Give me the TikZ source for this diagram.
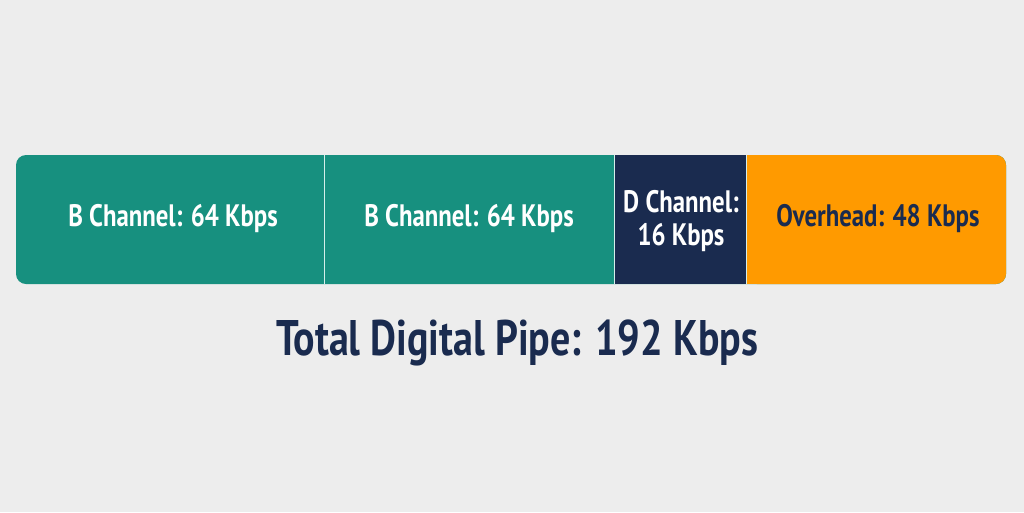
\documentclass[tikz,border=0pt]{standalone}
\usepackage{fontspec}
\setmainfont{PT Sans}[FakeStretch=0.8]
\definecolor{bg}{HTML}{EDEDED}
\definecolor{tealc}{HTML}{17907F}
\definecolor{navyc}{HTML}{1A2B4F}
\definecolor{orangec}{HTML}{FF9A00}
\definecolor{sepc}{HTML}{D5EEEA}
\tikzset{
  seglabel/.style={font=\bfseries\fontsize{31}{33}\selectfont, align=center, inner sep=0pt},
  sepline/.style={draw=sepc, line width=1.2pt}
}
\begin{document}
\begin{tikzpicture}[x=1pt,y=-1pt]
\fill[bg] (0,0) rectangle (1024,512);
\useasboundingbox (0,0) rectangle (1024,512);
% bar
\fill[tealc, rounded corners=10pt] (16,155) rectangle (1006,284);
\fill[navyc] (615,155) rectangle (747,284);
\fill[orangec, rounded corners=10pt] (747,155) rectangle (1006,284);
\fill[orangec] (747,155) rectangle (990,284);
\coordinate (s1t) at (324.5,155); \coordinate (s1b) at (324.5,284);
\coordinate (s2t) at (614.5,155); \coordinate (s2b) at (614.5,284);
\coordinate (s3t) at (746.5,155); \coordinate (s3b) at (746.5,284);
\draw[sepline] (s1t) -- (s1b);
\draw[sepline] (s2t) -- (s2b);
\draw[sepline] (s3t) -- (s3b);
\node[seglabel, text=white] (b1) at (173,219) {B Channel: 64 Kbps};
\node[seglabel, text=white] (b2) at (469,219) {B Channel: 64 Kbps};
\node[seglabel, text=white] (d) at (681,221) {D Channel:\\16 Kbps};
\node[seglabel, text=navyc] (oh) at (878,219) {Overhead: 48 Kbps};
\node[font=\bfseries\fontsize{50}{60}\selectfont, text=navyc, inner sep=0pt] (total) at (517,343) {Total Digital Pipe: 192 Kbps};
\end{tikzpicture}
\end{document}
